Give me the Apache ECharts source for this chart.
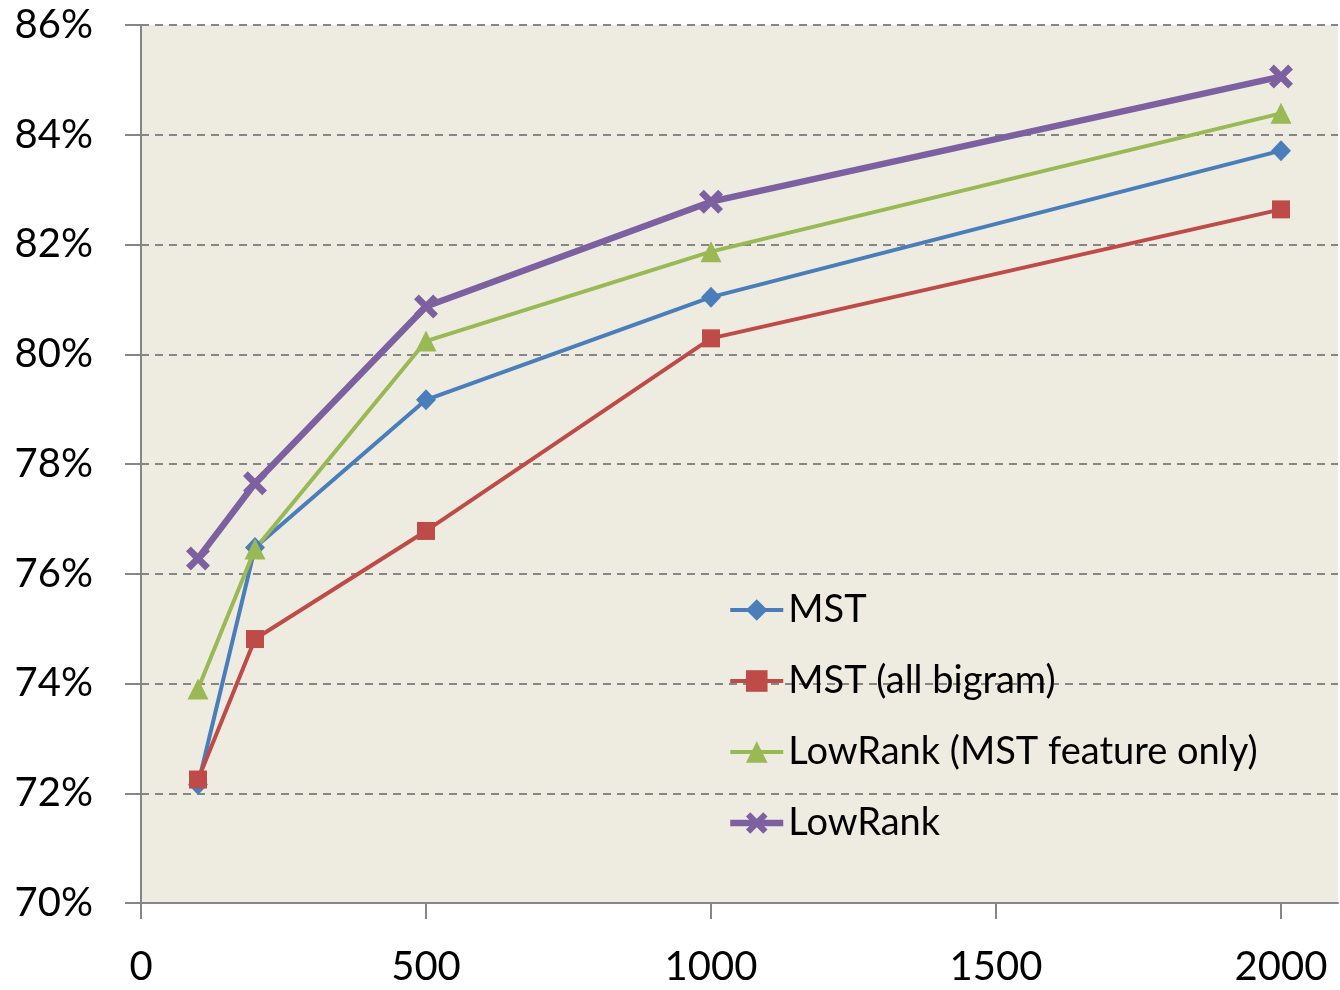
<!DOCTYPE html>
<html>
<head>
<meta charset="utf-8">
<script src="https://cdn.jsdelivr.net/npm/echarts@6/dist/echarts.min.js"></script>
<style>html,body{margin:0;padding:0;background:#fff;}#c{width:1340px;height:990px;}</style>
</head>
<body>
<div id="c"></div>
<script>
var xValues = [100, 200, 500, 1000, 2000];
var seriesNames = ['MST', 'MST (all bigram)', 'LowRank (MST feature only)', 'LowRank'];
var mst = [72.16, 76.48, 79.17, 81.04, 83.71];
var mstAllBigram = [72.25, 74.81, 76.78, 80.29, 82.64];
var lowRankMstOnly = [73.90, 76.45, 80.24, 81.87, 84.39];
var lowRank = [76.28, 77.65, 80.87, 82.78, 85.06];
var xTicks = [0, 500, 1000, 1500, 2000];
var yTicks = [70, 72, 74, 76, 78, 80, 82, 84, 86];

function pairs(vals) { return xValues.map(function (x, i) { return [x, vals[i]]; }); }

var crossPath = 'path://M2,0 L5,3 L8,0 L10,2 L7,5 L10,8 L8,10 L5,7 L2,10 L0,8 L3,5 L0,2 Z';
var font = 'Lato, "Open Sans", sans-serif';
var chart = echarts.init(document.getElementById('c'));
chart.setOption({
  animation: false,
  backgroundColor: '#ffffff',
  grid: { left: 141, right: 2, top: 25, bottom: 87, show: true, backgroundColor: '#eeece1', borderWidth: 0 },
  legend: {
    orient: 'vertical', left: 727, top: 590, padding: 0,
    itemWidth: 53, itemHeight: 27, itemGap: 31,
    data: seriesNames,
    lineStyle: { width: 'inherit' },
    textStyle: { fontFamily: font, fontSize: 38, lineHeight: 40, color: '#000' }
  },
  xAxis: {
    type: 'value', min: 0, max: 2100, interval: 500,
    axisLine: { show: true, lineStyle: { color: '#868686', width: 2 } },
    axisTick: { show: true, length: 16, customValues: xTicks, lineStyle: { color: '#868686', width: 2 } },
    axisLabel: { customValues: xTicks, margin: 44, fontFamily: font, fontSize: 40, color: '#000',
      formatter: function (v) { return String(v); } },
    splitLine: { show: false }
  },
  yAxis: {
    type: 'value', min: 70, max: 86, interval: 2,
    axisLine: { show: true, lineStyle: { color: '#868686', width: 2 } },
    axisTick: { show: true, length: 16, lineStyle: { color: '#868686', width: 2 } },
    axisLabel: { margin: 48, fontFamily: font, fontSize: 40, color: '#000', formatter: '{value}%' },
    splitLine: { show: true, lineStyle: { color: '#868686', width: 2, type: [8, 6] } }
  },
  series: [
    { name: seriesNames[0], type: 'line', data: pairs(mst), symbol: 'diamond', symbolSize: [20, 21],
      itemStyle: { color: '#4a7ebb' }, lineStyle: { color: '#4a7ebb', width: 4 } },
    { name: seriesNames[1], type: 'line', data: pairs(mstAllBigram), symbol: 'rect', symbolSize: 18,
      itemStyle: { color: '#be4b48' }, lineStyle: { color: '#be4b48', width: 4 } },
    { name: seriesNames[2], type: 'line', data: pairs(lowRankMstOnly), symbol: 'triangle', symbolSize: 21,
      itemStyle: { color: '#98b954' }, lineStyle: { color: '#98b954', width: 4 } },
    { name: seriesNames[3], type: 'line', data: pairs(lowRank), symbol: crossPath, symbolSize: 24,
      itemStyle: { color: '#7d60a0' }, lineStyle: { color: '#7d60a0', width: 6.5 } }
  ]
});
</script>
</body>
</html>
